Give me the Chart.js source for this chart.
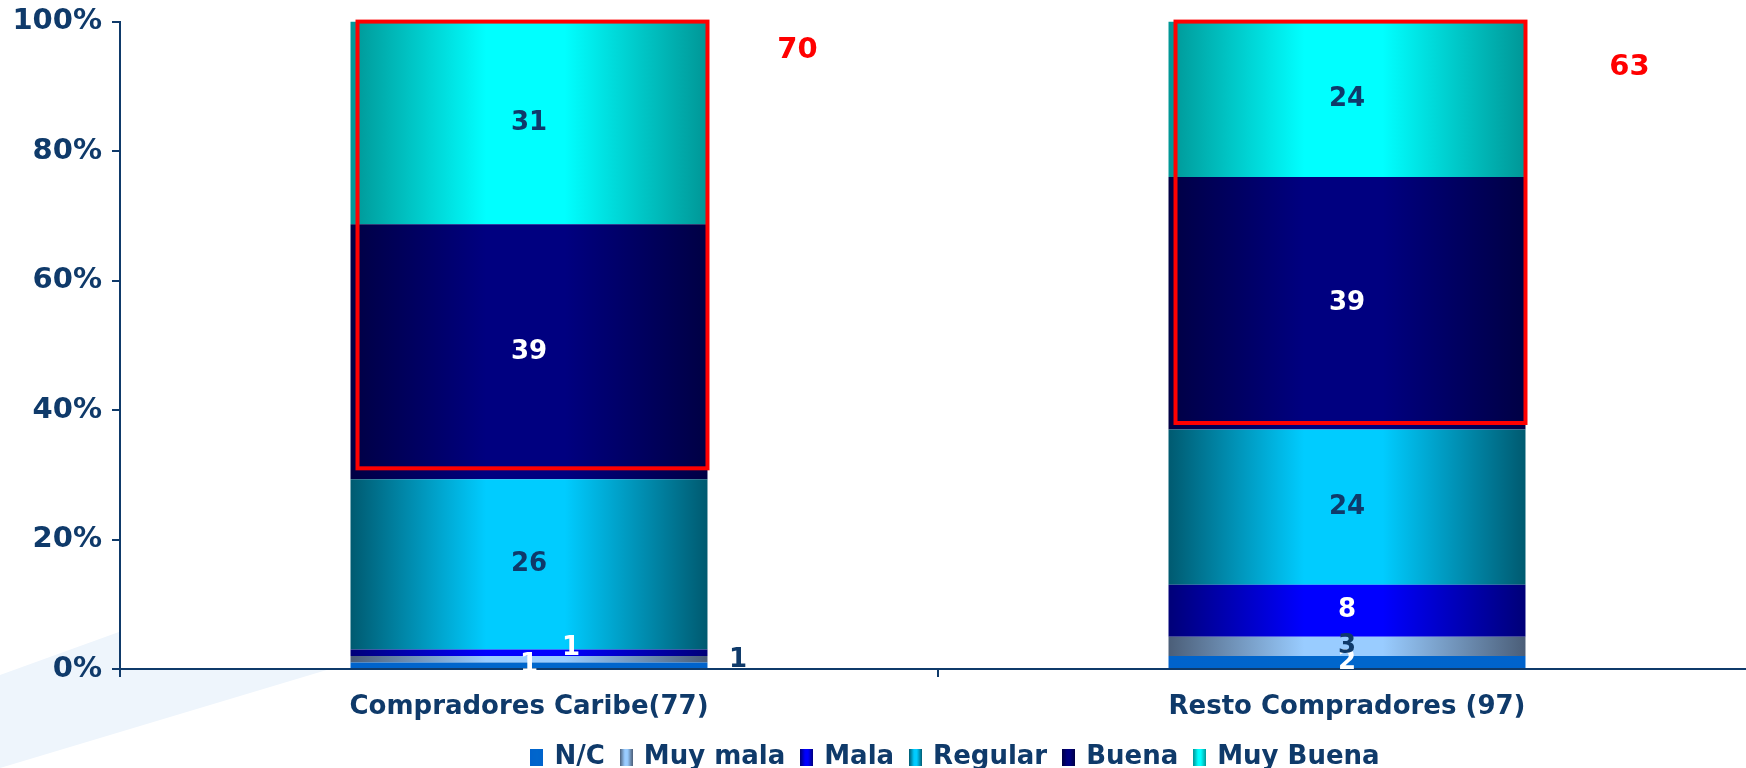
<!DOCTYPE html>
<html>
<head>
<meta charset="utf-8">
<script src="https://cdn.jsdelivr.net/npm/chart.js@4.4.1/dist/chart.umd.min.js"></script>
<style>
html, body { margin: 0; padding: 0; background: #fff; overflow: hidden; }
#wrap { position: relative; width: 1756px; height: 780px; }
</style>
</head>
<body>
<div id="wrap"><canvas id="myChart" width="1756" height="780"></canvas></div>
<script>
// data
const categories = ['Compradores Caribe(77)', 'Resto Compradores (97)'];
const seriesNames = ['N/C', 'Muy mala', 'Mala', 'Regular', 'Buena', 'Muy Buena'];
const nc       = [1, 2];
const muyMala  = [1, 3];
const mala     = [1, 8];
const regular  = [26, 24];
const buena    = [39, 39];
const muyBuena = [31, 24];
const yTicks = [0, 20, 40, 60, 80, 100];
const boxBottom = [31, 38];   // red frame lower edge, in %

const seriesValues = [nc, muyMala, mala, regular, buena, muyBuena];
const totals = categories.map((c, j) => seriesValues.reduce((s, arr) => s + arr[j], 0));
const toPct = arr => arr.map((v, j) => v / totals[j] * 100);

const navy = '#0f3a6a';
const barFrac = 0.4364;

// edge / centre colours for each series
const fills = [
    { edge: '#0063cc', center: '#0066cc' },
    { edge: '#4b5e78', center: '#99ccff' },
    { edge: '#000078', center: '#0000ff' },
    { edge: '#005a70', center: '#00ccff' },
    { edge: '#000044', center: '#000080' },
    { edge: '#009696', center: '#00ffff' }
];
const labelColors = ['#ffffff', navy, '#ffffff', navy, '#ffffff', navy];

function addStops(g, f) {
    g.addColorStop(0, f.edge);
    g.addColorStop(0.38, f.center);
    g.addColorStop(0.6, f.center);
    g.addColorStop(1, f.edge);
    return g;
}

function barGradient(f) {
    return function(ctx) {
        const chart = ctx.chart;
        const xs = chart.scales.x;
        if (!xs || !chart.chartArea || ctx.dataIndex === undefined) return f.center;
        const half = (xs.width / categories.length) * barFrac / 2;
        const c = xs.getPixelForValue(ctx.dataIndex);
        if (!isFinite(c)) return f.center;
        return addStops(chart.ctx.createLinearGradient(c - half, 0, c + half, 0), f);
    };
}

function legendIcon(f) {
    const cv = document.createElement('canvas');
    cv.width = 13; cv.height = 17;
    const c = cv.getContext('2d');
    c.fillStyle = addStops(c.createLinearGradient(0, 0, 13, 0), f);
    c.fillRect(0, 0, 13, 17);
    return cv;
}

// faint watermark in the lower left corner
const backdrop = {
    id: 'backdrop',
    beforeDraw(chart) {
        const c = chart.ctx;
        const a = chart.chartArea;
        c.save();
        c.fillStyle = '#eef5fc';
        c.beginPath();
        c.moveTo(0, 675);
        c.lineTo(130, 628);
        c.lineTo(330, a.bottom);
        c.lineTo(0, 768);
        c.closePath();
        c.fill();
        c.fillStyle = '#ffffff';
        c.fillRect(a.left, a.top, a.right - a.left, a.bottom - a.top);
        c.restore();
    },
    afterLayout(chart) {
        if (chart.legend) { chart.legend.left += 18; chart.legend.right += 18; }
    }
};

// label nudges for the tiny segments of the first bar: [dataset, bar, dx, dy]
const labelShift = [[2, 0, 42, -4], [1, 0, 209, 1]];

const valueLabels = {
    id: 'valueLabels',
    afterDatasetsDraw(chart) {
        const ctx = chart.ctx;
        ctx.save();
        ctx.font = 'bold 26px "DejaVu Sans"';
        ctx.textAlign = 'center';
        ctx.textBaseline = 'middle';
        chart.data.datasets.forEach((ds, i) => {
            chart.getDatasetMeta(i).data.forEach((el, j) => {
                let x = el.x, y = (el.y + el.base) / 2;
                labelShift.forEach(s => { if (s[0] === i && s[1] === j) { x += s[2]; y += s[3]; } });
                ctx.fillStyle = labelColors[i];
                ctx.fillText(String(seriesValues[i][j]), x, y);
            });
        });

        // red frames around Buena + Muy Buena, and their sums
        const ys = chart.scales.y;
        const meta = chart.getDatasetMeta(0);
        const totShift = [[90, 29], [104, 46]];
        ctx.strokeStyle = '#ff0000';
        ctx.lineWidth = 4;
        ctx.font = 'bold 29px "DejaVu Sans"';
        meta.data.forEach((el, j) => {
            const left = el.x - el.width / 2 + 7;
            const right = el.x + el.width / 2;
            const top = ys.getPixelForValue(100);
            const bottom = ys.getPixelForValue(boxBottom[j]);
            ctx.strokeRect(left, top, right - left, bottom - top);
            ctx.fillStyle = '#ff0000';
            ctx.fillText(String(buena[j] + muyBuena[j]), el.x + el.width / 2 + totShift[j][0], chart.chartArea.top + totShift[j][1]);
        });
        ctx.restore();
    }
};

const ctx = document.getElementById('myChart');

const myChart = new Chart(ctx, {
    type: 'bar',
    data: {
        labels: categories,
        datasets: seriesNames.map((name, i) => ({
            label: name,
            data: toPct(seriesValues[i]),
            backgroundColor: barGradient(fills[i]),
            borderWidth: 0,
            barPercentage: barFrac,
            categoryPercentage: 1
        }))
    },
    options: {
        responsive: false,
        animation: false,
        devicePixelRatio: 1,
        layout: { padding: { top: 1, left: 0, right: 0, bottom: 0 } },
        font: { family: '"DejaVu Sans"', weight: 'bold', size: 26 },
        plugins: {
            tooltip: { enabled: false },
            legend: {
                position: 'bottom',
                fullSize: false,
                labels: {
                    color: navy,
                    font: { family: '"DejaVu Sans"', weight: 'bold', size: 26 },
                    usePointStyle: true,
                    pointStyleWidth: 9,
                    padding: 17,
                    generateLabels: chart => chart.data.datasets.map((ds, i) => ({
                        text: ds.label,
                        fillStyle: fills[i].center,
                        strokeStyle: 'rgba(0,0,0,0)',
                        lineWidth: 0,
                        pointStyle: legendIcon(fills[i]),
                        fontColor: navy,
                        hidden: false,
                        datasetIndex: i
                    }))
                }
            }
        },
        scales: {
            x: {
                stacked: true,
                grid: { drawOnChartArea: false, tickLength: 8, color: navy, lineWidth: 2 },
                border: { color: navy, width: 2 },
                ticks: { color: navy, padding: 15, font: { family: '"DejaVu Sans"', weight: 'bold', size: 26 } },
                afterFit: s => { s.height = 58; }
            },
            y: {
                stacked: true,
                min: 0,
                max: 100,
                grid: { drawOnChartArea: false, tickLength: 8, color: navy, lineWidth: 2 },
                border: { color: navy, width: 2 },
                ticks: { color: navy, padding: 10, callback: v => v + '%', font: { family: '"DejaVu Sans"', weight: 'bold', size: 29, lineHeight: 0.8 } },
                afterBuildTicks: s => { s.ticks = yTicks.map(v => ({ value: v })); },
                afterFit: s => { s.width = 120; }
            }
        }
    },
    plugins: [backdrop, valueLabels]
});
</script>
</body>
</html>
